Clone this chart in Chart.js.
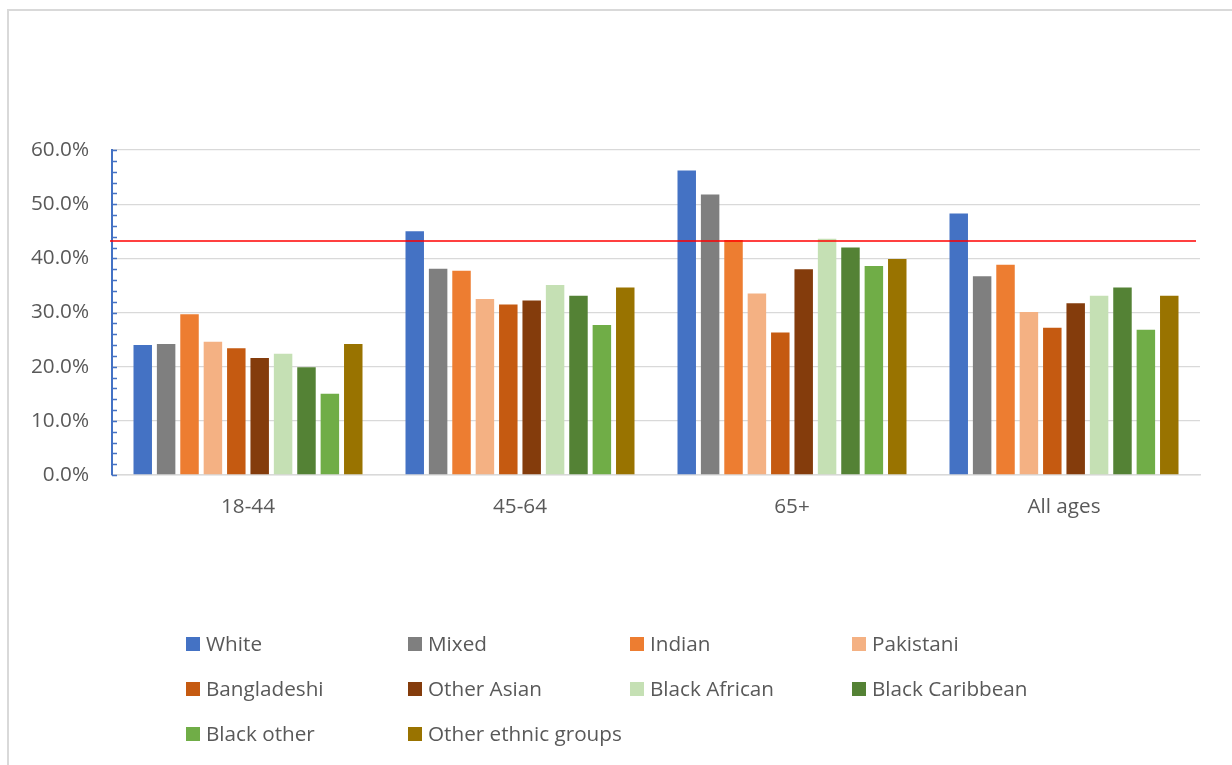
<!DOCTYPE html>
<html>
<head>
<meta charset="utf-8">
<script src="https://cdn.jsdelivr.net/npm/chart.js@4"></script>
<style>
  html, body { margin: 0; padding: 0; background: #ffffff; }
  canvas { display: block; }
</style>
</head>
<body>
<canvas id="chart" width="1232" height="765"></canvas>
<script>
// Age bands along the category axis
const ageGroups = ['18-44', '45-64', '65+', 'All ages'];

// Ethnic groups, one bar series each
const ethnicGroups = ['White', 'Mixed', 'Indian', 'Pakistani', 'Bangladeshi',
  'Other Asian', 'Black African', 'Black Caribbean', 'Black other', 'Other ethnic groups'];

// Percentages per age band (18-44, 45-64, 65+, All ages)
const white          = [24.0, 45.0, 56.2, 48.3];
const mixed          = [24.2, 38.1, 51.8, 36.7];
const indian         = [29.7, 37.7, 43.4, 38.8];
const pakistani      = [24.6, 32.5, 33.5, 30.1];
const bangladeshi    = [23.4, 31.5, 26.3, 27.2];
const otherAsian     = [21.6, 32.2, 38.0, 31.7];
const blackAfrican   = [22.4, 35.1, 43.6, 33.1];
const blackCaribbean = [19.9, 33.1, 42.0, 34.6];
const blackOther     = [15.0, 27.7, 38.6, 26.8];
const otherEthnic    = [24.2, 34.6, 39.9, 33.1];

// Reference level drawn as a horizontal red line
const referenceLevel = 43.2;

// Value axis range and tick spacing
const yMin = 0, yMax = 60, yMajorStep = 10, yMinorStep = 2;

const seriesValues = [white, mixed, indian, pakistani, bangladeshi,
  otherAsian, blackAfrican, blackCaribbean, blackOther, otherEthnic];
const seriesColors = ['#4472C4', '#7F7F7F', '#ED7D31', '#F4B183', '#C55A11',
  '#843C0C', '#C5E0B4', '#548235', '#70AD47', '#997300'];

const FONT = '"Open Sans", "Noto Sans", sans-serif';
const FONT_SIZE = 20.7;
const TEXT = '#595959';

// Light frame round the chart
const framePlugin = {
  id: 'frame',
  beforeDraw(chart) {
    const ctx = chart.ctx;
    ctx.save();
    ctx.fillStyle = '#ffffff';
    ctx.fillRect(0, 0, chart.width, chart.height);
    ctx.strokeStyle = '#d9d9d9';
    ctx.lineWidth = 2;
    ctx.beginPath();
    ctx.moveTo(8, chart.height);
    ctx.lineTo(8, 10);
    ctx.lineTo(chart.width, 10);
    ctx.stroke();
    ctx.restore();
  }
};

// Minor tick marks on the inside of the value axis
const minorTicksPlugin = {
  id: 'minorTicks',
  afterDraw(chart) {
    const y = chart.scales.y;
    const ctx = chart.ctx;
    ctx.save();
    ctx.strokeStyle = '#4472C4';
    ctx.lineWidth = 1.3;
    ctx.beginPath();
    for (let v = yMin; v <= yMax; v += yMinorStep) {
      const py = Math.round(y.getPixelForValue(v)) + 0.5;
      ctx.moveTo(y.right, py);
      ctx.lineTo(y.right + 5, py);
    }
    ctx.stroke();
    ctx.restore();
  }
};

// Horizontal red reference line
const referencePlugin = {
  id: 'referenceLine',
  afterDatasetsDraw(chart) {
    const y = chart.scales.y;
    const area = chart.chartArea;
    const py = y.getPixelForValue(referenceLevel);
    const ctx = chart.ctx;
    ctx.save();
    ctx.strokeStyle = '#FF0000';
    ctx.lineWidth = 1.5;
    ctx.beginPath();
    ctx.moveTo(area.left - 2, py);
    ctx.lineTo(area.right - 4, py);
    ctx.stroke();
    ctx.restore();
  }
};

// Legend laid out in a fixed four-column grid below the plot
const gridLegendPlugin = {
  id: 'gridLegend',
  afterDraw(chart) {
    const ctx = chart.ctx;
    const x0 = 186, colW = 222, y0 = 644, rowH = 45, box = 14;
    ctx.save();
    ctx.font = FONT_SIZE + 'px ' + FONT;
    ctx.textBaseline = 'middle';
    ctx.textAlign = 'left';
    chart.data.datasets.forEach((ds, i) => {
      const col = i % 4, row = Math.floor(i / 4);
      const x = x0 + col * colW, yc = y0 + row * rowH;
      ctx.fillStyle = ds.backgroundColor;
      ctx.fillRect(x, yc - box / 2, box, box);
      ctx.fillStyle = TEXT;
      ctx.fillText(ds.label, x + box + 6, yc + 1);
    });
    ctx.restore();
  }
};

new Chart(document.getElementById('chart'), {
  type: 'bar',
  data: {
    labels: ageGroups,
    datasets: ethnicGroups.map((name, i) => ({
      label: name,
      data: seriesValues[i],
      backgroundColor: seriesColors[i],
      borderWidth: 0,
      categoryPercentage: 0.86,
      barPercentage: 0.79
    }))
  },
  options: {
    responsive: false,
    animation: false,
    devicePixelRatio: 1,
    layout: { padding: { top: 150, right: 32, bottom: 0, left: 0 } },
    plugins: {
      legend: { display: false },
      tooltip: { enabled: false },
      title: { display: false }
    },
    scales: {
      x: {
        grid: { display: false, drawTicks: false },
        border: { display: true, color: '#d9d9d9', width: 1.5 },
        ticks: { color: TEXT, font: { family: FONT, size: FONT_SIZE }, padding: 20 },
        afterFit(scale) { scale.height = 290; }
      },
      y: {
        min: yMin,
        max: yMax,
        ticks: {
          stepSize: yMajorStep,
          color: TEXT,
          font: { family: FONT, size: FONT_SIZE },
          padding: 23,
          callback: v => v.toFixed(1) + '%'
        },
        grid: { color: '#d9d9d9', lineWidth: 1.3, drawTicks: false },
        border: { display: true, color: '#4472C4', width: 2 },
        afterFit(scale) { scale.width = 112; }
      }
    }
  },
  plugins: [framePlugin, minorTicksPlugin, referencePlugin, gridLegendPlugin]
});
</script>
</body>
</html>
